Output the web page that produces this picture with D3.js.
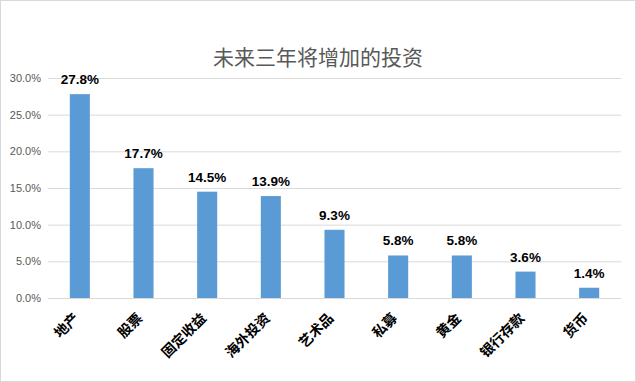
<!DOCTYPE html>
<html><head><meta charset="utf-8">
<script src="https://cdn.jsdelivr.net/npm/d3@7/dist/d3.min.js"></script>
<style>body{margin:0;background:#fff}svg{display:block}</style>
</head><body>
<script>
const categories = ["地产","股票","固定收益","海外投资","艺术品","私募","黄金","银行存款","货币"];
const values = [27.8,17.7,14.5,13.9,9.3,5.8,5.8,3.6,1.4];
const yTicks = [0,5,10,15,20,25,30];
const title = "未来三年将增加的投资";

(function(){
const W=636,H=382;
const svg=d3.select("body").append("svg").attr("width",W).attr("height",H);
svg.append("rect").attr("x",0.5).attr("y",0.5).attr("width",W-1).attr("height",H-1)
  .attr("fill","#fff").attr("stroke","#d9d9d9");

const mL=48,mR=621,mT=78,mB=298;
const x=d3.scaleBand().domain(categories).range([mL,mR]).paddingInner(0.685).paddingOuter(0.3425);
const y=d3.scaleLinear().domain([0,30]).range([mB,mT]);

svg.append("text").attr("x",318).attr("y",65).attr("text-anchor","middle")
  .attr("font-family","'Noto Sans CJK SC'").attr("font-size",21).attr("fill","#595959").text(title);

const g=svg.append("g");
g.selectAll("line.grid").data(yTicks).join("line").attr("class","grid")
  .attr("x1",mL).attr("x2",mR).attr("y1",d=>y(d)+0.5).attr("y2",d=>y(d)+0.5)
  .attr("stroke","#d9d9d9").attr("stroke-width",1);

g.selectAll("text.yt").data(yTicks).join("text").attr("class","yt")
  .attr("x",41).attr("y",d=>y(d)+4).attr("text-anchor","end")
  .attr("font-family","'Liberation Sans',Arial,sans-serif").attr("font-size",11).attr("fill","#595959")
  .text(d=>d.toFixed(1)+"%");

g.selectAll("rect.bar").data(values).join("rect").attr("class","bar")
  .attr("x",(d,i)=>x(categories[i])).attr("width",x.bandwidth())
  .attr("y",d=>y(d)).attr("height",d=>mB-y(d)).attr("fill","#5b9bd5");

g.selectAll("text.lbl").data(values).join("text").attr("class","lbl")
  .attr("x",(d,i)=>x(categories[i])+x.bandwidth()/2).attr("y",d=>y(d)-10)
  .attr("text-anchor","middle").attr("font-family","'Liberation Sans',Arial,sans-serif")
  .attr("font-weight","bold").attr("font-size",13.5).attr("fill","#000")
  .text(d=>d.toFixed(1)+"%");

g.selectAll("text.cat").data(categories).join("text").attr("class","cat")
  .attr("transform",d=>`translate(${x(d)+x.bandwidth()/2},${mB+21}) rotate(-45)`)
  .attr("text-anchor","end").attr("font-family","'Noto Sans CJK SC'")
  .attr("font-weight","bold").attr("font-size",14).attr("fill","#000").text(d=>d);
})();
</script>
</body></html>
